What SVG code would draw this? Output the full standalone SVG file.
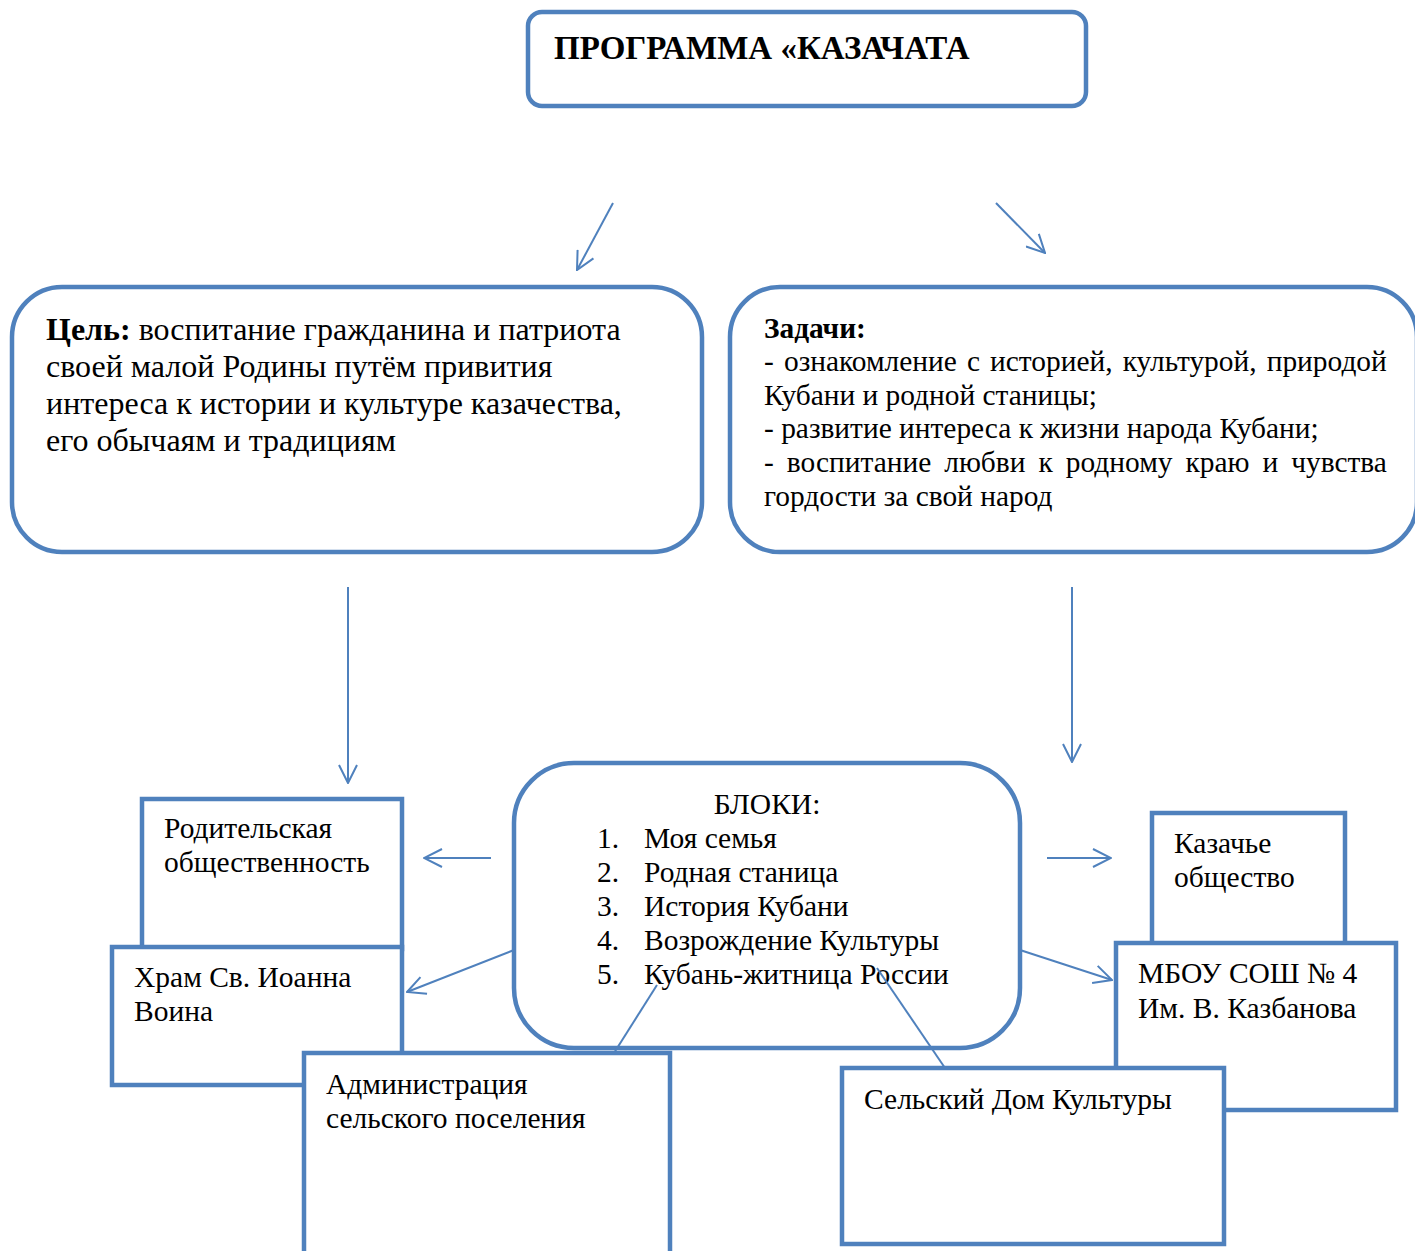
<svg xmlns="http://www.w3.org/2000/svg" width="1415" height="1251" viewBox="0 0 1415 1251">
<defs>
<marker id="arr" viewBox="0 0 20 20" refX="19" refY="10" markerWidth="20" markerHeight="20" markerUnits="userSpaceOnUse" orient="auto">
<path d="M1,1 L19,10 L1,19" fill="none" stroke="#4F81BD" stroke-width="2"/>
</marker>
<style>
.box{fill:#fff;stroke:#4F81BD;stroke-width:4.5}
.t{font-family:"Liberation Serif","Times New Roman",serif;fill:#000}
.c{stroke:#4F81BD;stroke-width:2;fill:none}
.a{marker-end:url(#arr)}
</style>
</defs>
<rect width="1415" height="1251" fill="#fff"/>
<g id="nodes">
<g id="goal">
<rect class="box" x="12" y="287" width="690" height="265" rx="50"/>
<text class="t" font-size="32"><tspan x="46" y="340"><tspan font-weight="bold">Цель:</tspan> воспитание гражданина и патриота</tspan><tspan x="46" y="377">своей малой Родины путём привития</tspan><tspan x="46" y="414">интереса к истории и культуре казачества,</tspan><tspan x="46" y="451">его обычаям и традициям</tspan></text>
</g>
<g id="tasks">
<rect class="box" x="730" y="287" width="687" height="265" rx="50"/>
<text class="t" font-size="29.4"><tspan x="764" y="338" font-weight="bold">Задачи:</tspan><tspan x="764" y="371" word-spacing="2.8">- ознакомление с историей, культурой, природой</tspan><tspan x="764" y="405">Кубани и родной станицы;</tspan><tspan x="764" y="438">- развитие интереса к жизни народа Кубани;</tspan><tspan x="764" y="472" word-spacing="5.7">- воспитание любви к родному краю и чувства</tspan><tspan x="764" y="506">гордости за свой народ</tspan></text>
</g>
<g id="title">
<rect class="box" x="528" y="12" width="558" height="94" rx="14"/>
<text class="t" x="554" y="59" font-size="33" font-weight="bold">ПРОГРАММА «КАЗАЧАТА</text>
</g>
<g id="parents">
<rect class="box" x="142" y="799" width="260" height="150"/>
<text class="t" font-size="29.5"><tspan x="164" y="838">Родительская</tspan><tspan x="164" y="872">общественность</tspan></text>
</g>
<g id="temple">
<rect class="box" x="112" y="947" width="290" height="138"/>
<text class="t" font-size="29.5"><tspan x="134" y="987">Храм Св. Иоанна</tspan><tspan x="134" y="1021">Воина</tspan></text>
</g>
<g id="cossack">
<rect class="box" x="1152" y="813" width="193" height="132"/>
<text class="t" font-size="29.5"><tspan x="1174" y="853">Казачье</tspan><tspan x="1174" y="887">общество</tspan></text>
</g>
<g id="school">
<rect class="box" x="1116" y="943" width="280" height="167"/>
<text class="t" font-size="29.5"><tspan x="1138" y="983">МБОУ СОШ № 4</tspan><tspan x="1138" y="1018">Им. В. Казбанова</tspan></text>
</g>
<g id="blocks">
<rect class="box" x="514" y="763" width="506" height="285" rx="60"/>
<text class="t" font-size="29.5"><tspan x="767" y="814" text-anchor="middle">БЛОКИ:</tspan><tspan x="597" y="848">1.</tspan><tspan x="644" y="848">Моя семья</tspan><tspan x="597" y="882">2.</tspan><tspan x="644" y="882">Родная станица</tspan><tspan x="597" y="916">3.</tspan><tspan x="644" y="916">История Кубани</tspan><tspan x="597" y="950">4.</tspan><tspan x="644" y="950">Возрождение Культуры</tspan><tspan x="597" y="984">5.</tspan><tspan x="644" y="984">Кубань-житница России</tspan></text>
</g>
<g id="admin">
<rect class="box" x="304" y="1053" width="366" height="210"/>
<text class="t" font-size="29.5"><tspan x="326" y="1094">Администрация</tspan><tspan x="326" y="1128">сельского поселения</tspan></text>
</g>
<g id="culture">
<rect class="box" x="842" y="1068" width="382" height="176"/>
<text class="t" x="864" y="1109" font-size="29.5">Сельский Дом Культуры</text>
</g>
</g>
<g id="connectors">
<line class="c a" x1="613" y1="203" x2="577" y2="270"/>
<line class="c a" x1="996" y1="203" x2="1045" y2="253"/>
<line class="c a" x1="348" y1="587" x2="348" y2="783"/>
<line class="c a" x1="1072" y1="587" x2="1072" y2="762"/>
<line class="c a" x1="491" y1="858" x2="424" y2="858"/>
<line class="c a" x1="1047" y1="858" x2="1111" y2="858"/>
<line class="c a" x1="514" y1="950" x2="407" y2="992"/>
<line class="c a" x1="1020" y1="950" x2="1112" y2="980"/>
<line class="c" x1="657" y1="985" x2="614" y2="1053"/>
<line class="c" x1="877" y1="968" x2="945" y2="1068"/>
</g>
</svg>
